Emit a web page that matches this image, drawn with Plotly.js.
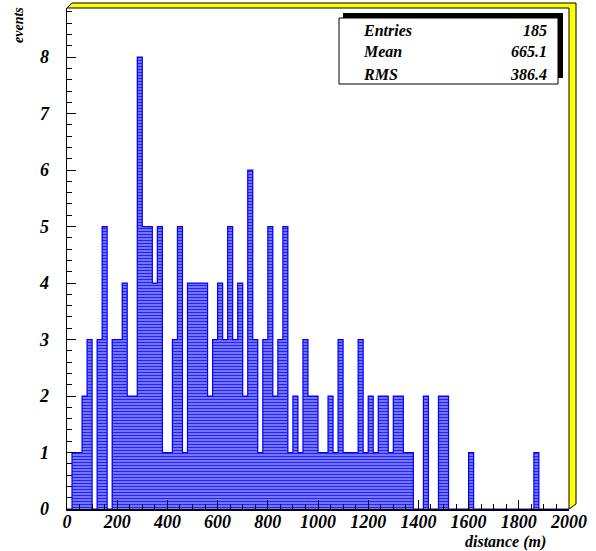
<!DOCTYPE html>
<html>
<head>
<meta charset="utf-8">
<script src="https://cdn.plot.ly/plotly-3.0.1.min.js"></script>
<style>html,body{margin:0;padding:0;background:#fff;}#chart{width:596px;height:551px;}</style>
</head>
<body>
<div id="chart"></div>
<script>
// ---- data ----
const binWidth = 20;           // metres per bin
const binStart = 0;
const counts = [
  0,1,1,2,3,0,3,5,0,3,      // 0-200
  3,4,2,2,8,5,5,4,5,1,      // 200-400
  1,3,5,1,4,4,4,4,2,3,      // 400-600
  4,3,5,3,4,2,6,3,1,3,      // 600-800
  5,2,3,5,1,2,1,3,2,2,      // 800-1000
  1,1,2,1,3,1,1,1,3,1,      // 1000-1200
  2,1,2,2,1,2,2,1,1,0,      // 1200-1400
  0,2,0,0,2,2,0,0,0,0,      // 1400-1600
  1,0,0,0,0,0,0,0,0,0,      // 1600-1800
  0,0,0,1,0,0,0,0,0,0       // 1800-2000
];
const statLabels = ["Entries", "Mean", "RMS"];
const statValues = ["185", "665.1", "386.4"];
const xTitle = "distance (m)";
const yTitle = "events";

// ---- derived ----
const centers = counts.map((_, i) => binStart + binWidth * (i + 0.5));
const edges = counts.map((_, i) => binStart + binWidth * i);
const stepX = edges.concat([binStart + binWidth * counts.length]);
const stepY = counts.concat([0]);

// ---- layout geometry (pixels) ----
const W = 596, H = 551;
const L = 67, R = 569, T = 8, B = 509;
const px = p => (p - L) / (R - L);
const py = p => (B - p) / (B - T);

const FONT = "Liberation Serif, Times New Roman, serif";

const bars = {
  type: "bar",
  x: centers,
  y: counts,
  width: binWidth,
  marker: {
    color: "#2323ff",
    line: {width: 0},
    pattern: {shape: "-", fgcolor: "#2222ff", bgcolor: "#ffffff", size: 3, solidity: 0.75}
  },
  hoverinfo: "x+y",
  showlegend: false
};
const outline = {
  type: "scatter",
  mode: "lines",
  x: stepX,
  y: stepY,
  line: {shape: "hv", color: "#0000ff", width: 1.2},
  hoverinfo: "skip",
  showlegend: false
};

const framePath = "M " + px(67) + "," + py(8) + " L " + px(72) + "," + py(3) +
  " L " + px(576) + "," + py(3) + " L " + px(576) + "," + py(504) +
  " L " + px(569) + "," + py(509) + " L " + px(569) + "," + py(8) + " Z";

const shapes = [
  {type: "path", xref: "paper", yref: "paper", path: framePath,
   fillcolor: "#ffff00", line: {color: "#000000", width: 1}, layer: "above"},
  {type: "rect", xref: "paper", yref: "paper",
   x0: px(343), x1: px(563), y0: py(13), y1: py(78),
   fillcolor: "#000000", line: {width: 0}, layer: "above"},
  {type: "rect", xref: "paper", yref: "paper",
   x0: px(339), x1: px(558), y0: py(18), y1: py(84),
   fillcolor: "#ffffff", line: {color: "#000000", width: 1}, layer: "above"}
];

const statFont = {family: FONT, size: 16, color: "#000", weight: "bold", style: "italic"};
const annotations = [];
const rowY = [30, 52, 74];
statLabels.forEach((lab, i) => {
  annotations.push({xref: "paper", yref: "paper", x: px(361), y: py(rowY[i]),
    xanchor: "left", yanchor: "middle", text: lab, showarrow: false, font: statFont});
  annotations.push({xref: "paper", yref: "paper", x: px(549), y: py(rowY[i]),
    xanchor: "right", yanchor: "middle", text: statValues[i], showarrow: false, font: statFont});
});
annotations.push({xref: "paper", yref: "paper", x: px(548), y: py(542),
  xanchor: "right", yanchor: "middle", text: xTitle, showarrow: false,
  font: {family: FONT, size: 16, color: "#000", weight: "bold", style: "italic"}});
annotations.push({xref: "paper", yref: "paper", x: px(18), y: py(25),
  xanchor: "center", yanchor: "middle", text: yTitle, textangle: -90, showarrow: false,
  font: {family: FONT, size: 14, color: "#000", weight: "bold", style: "italic"}});

const tickFont = {family: FONT, size: 18, color: "#000", weight: "bold", style: "italic"};

const layout = {
  width: W, height: H,
  margin: {l: L, r: W - R, t: T, b: H - B, pad: 0},
  paper_bgcolor: "#ffffff",
  plot_bgcolor: "#ffffff",
  bargap: 0,
  showlegend: false,
  xaxis: {
    range: [0, 2000], tickmode: "linear", tick0: 0, dtick: 200,
    ticks: "inside", ticklen: 9, tickwidth: 1, tickcolor: "#000",
    minor: {dtick: 50, ticks: "inside", ticklen: 5, tickcolor: "#000", tickwidth: 1, showgrid: false},
    showline: true, linecolor: "#000", linewidth: 1.5,
    showgrid: false, zeroline: false, tickfont: tickFont, fixedrange: true,
    ticklabelstandoff: -4
  },
  yaxis: {
    range: [0, 8.87], tickmode: "linear", tick0: 0, dtick: 1,
    ticks: "inside", ticklen: 9, tickwidth: 1, tickcolor: "#000",
    minor: {dtick: 0.2, ticks: "inside", ticklen: 5, tickcolor: "#000", tickwidth: 1, showgrid: false},
    showline: true, linecolor: "#000", linewidth: 1.5,
    showgrid: false, zeroline: false, tickfont: tickFont, fixedrange: true,
    ticklabelstandoff: 13
  },
  shapes: shapes,
  annotations: annotations
};

Plotly.newPlot("chart", [bars, outline], layout, {displayModeBar: false, staticPlot: true});
</script>
</body>
</html>
